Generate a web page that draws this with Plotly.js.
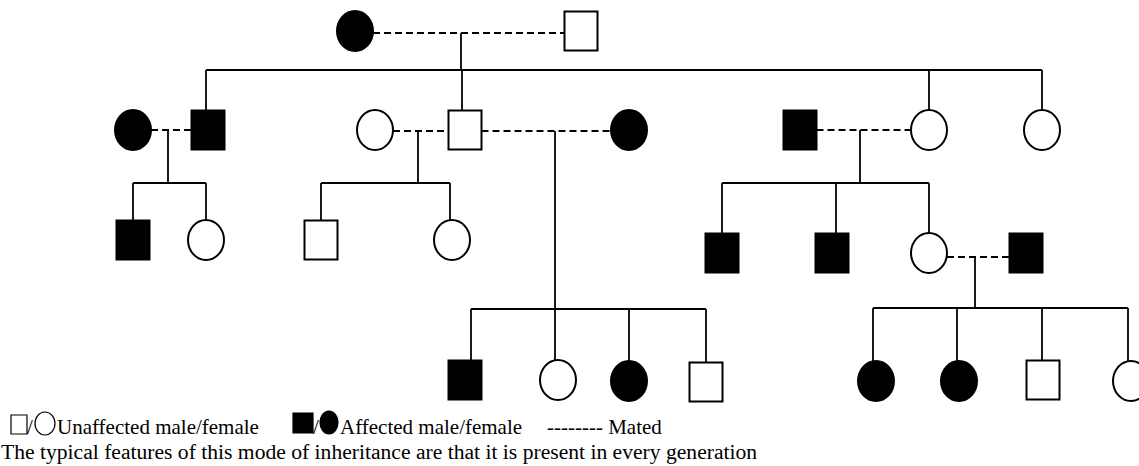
<!DOCTYPE html>
<html><head><meta charset="utf-8">
<script src="https://cdn.plot.ly/plotly-3.0.1.min.js"></script>
<style>html,body{margin:0;padding:0;background:#fff}#chart{width:1139px;height:466px}</style>
</head><body><div id="chart"></div>
<script>
// ---- pedigree data ----
const people   = ['I-1','I-2','II-1','II-2','II-3','II-4','II-5','II-6','II-7','II-8','III-1','III-2','III-3','III-4','III-5','III-6','III-7','III-8','IV-1','IV-2','IV-3','IV-4','IV-5','IV-6','IV-7','IV-8'];
const sex      = ['F','M','F','M','F','M','F','M','F','F','M','F','M','F','M','M','F','M','M','F','F','M','F','F','M','F'];
const affected = [1,0,1,1,0,0,1,1,0,0,1,0,0,0,1,1,0,1,1,0,1,0,1,1,0,0];
// parents of each person (family index, -1 = founder / married-in)
const family   = [-1,-1,-1,0,-1,0,-1,-1,0,0,1,1,2,2,4,4,4,-1,3,3,3,3,5,5,5,5];
// matings: father, mother
const famFather = ['I-2','II-2','II-4','II-4','II-6','III-8'];
const famMother = ['I-1','II-1','II-3','II-5','II-7','III-7'];

// ---- drawing placement of the pedigree ----
const placeX   = [355,581,133,208,375,465,629,800,929,1042,133,206,321,452,722,832,929,1026,465,558,629,706,876,959,1043,1131];
const placeY   = [31,31,130,130,130,130,130,130,130,130,240,240,240,240,253,253,253,253,380,380,381,382,381,381,380,381];
const attachX  = [355,581,133,206,375,462,629,800,929,1042,133,206,321,450,722,836,929,1026,471,555,629,706,873,957,1042,1128];
const famLineY = [33,130,131,131,130,257];
const famDropX = [461,168,418,555,860,975];
const famSibY  = [70,183,183,309,183,308];

// ---- legend ----
const legendLabels   = ['Unaffected male/female','Affected male/female','-------- Mated'];
const legendSex      = [['M','F'],['M','F']];
const legendAffected = [0,1];
const noteText = 'The typical features of this mode of inheritance are that it is present in every generation';

// symbol geometry
const SQ = {hw:16.5, hh:19.5};
const CI = {hw:18, hh:20};
const geo = i => sex[i]==='M' ? SQ : CI;
const idx = n => people.indexOf(n);

const shapes = [];
people.forEach((p,i)=>{
  const g = geo(i);
  shapes.push({
    type: sex[i]==='M' ? 'rect' : 'circle',
    xref:'x', yref:'y',
    x0: placeX[i]-g.hw, x1: placeX[i]+g.hw,
    y0: placeY[i]-g.hh, y1: placeY[i]+g.hh,
    fillcolor: affected[i] ? '#000' : '#fff',
    line:{color:'#000', width:2}
  });
});

const sx=[], sy=[], dx=[], dy=[];
famFather.forEach((f,k)=>{
  const a = idx(f), b = idx(famMother[k]);
  const L = placeX[a] < placeX[b] ? a : b;
  const R = L===a ? b : a;
  dx.push(placeX[L]+geo(L).hw, placeX[R]-geo(R).hw, null);
  dy.push(famLineY[k], famLineY[k], null);
  sx.push(famDropX[k], famDropX[k], null);
  sy.push(famLineY[k], famSibY[k], null);
  const kids = people.map((_,i)=>i).filter(i=>family[i]===k);
  const xs = kids.map(i=>attachX[i]).concat([famDropX[k]]);
  sx.push(Math.min(...xs), Math.max(...xs), null);
  sy.push(famSibY[k], famSibY[k], null);
  kids.forEach(i=>{
    sx.push(attachX[i], attachX[i], null);
    sy.push(famSibY[k], placeY[i]-geo(i).hh, null);
  });
});

// legend symbol boxes (square then circle for each legend entry)
const legBoxes = [
  [[11,27,415,434],[35,55,412,435]],
  [[293,313,413,433],[320,338,411,434]]
];
legBoxes.forEach((pair,e)=>{
  pair.forEach((b,j)=>{
    shapes.push({
      type: legendSex[e][j]==='M' ? 'rect' : 'circle',
      xref:'x', yref:'y', x0:b[0], x1:b[1], y0:b[2], y1:b[3],
      fillcolor: legendAffected[e] ? '#000' : '#fff',
      line:{color:'#000', width:1.2}
    });
  });
});

const traces = [
  {x:sx, y:sy, mode:'lines', line:{color:'#000', width:1.8}, hoverinfo:'skip', connectgaps:false},
  {x:dx, y:dy, mode:'lines', line:{color:'#000', width:2, dash:'7px,4px'}, hoverinfo:'skip', connectgaps:false}
];

const font = {family:'"Liberation Serif", "Times New Roman", serif', size:21, color:'#000'};
const ann = (x,y,t,sz)=>({x:x, y:y, xref:'x', yref:'y', xanchor:'left', yanchor:'middle', text:t, showarrow:false,
  font:Object.assign({}, font, sz?{size:sz}:{}), borderpad:0});

const layout = {
  width:1139, height:466,
  margin:{l:0,r:0,t:0,b:0},
  paper_bgcolor:'#fff', plot_bgcolor:'#fff',
  showlegend:false,
  xaxis:{range:[0,1139], visible:false, fixedrange:true},
  yaxis:{range:[466,0], visible:false, fixedrange:true},
  shapes:shapes,
  annotations:[
    ann(26,427,'/'),
    ann(56,427,legendLabels[0]),
    ann(312,427,'/'),
    ann(339,427,legendLabels[1]),
    ann(546,427,legendLabels[2]),
    ann(0,452,noteText,21.6)
  ]
};

Plotly.newPlot('chart', traces, layout, {displayModeBar:false, staticPlot:true});
</script>
</body></html>
